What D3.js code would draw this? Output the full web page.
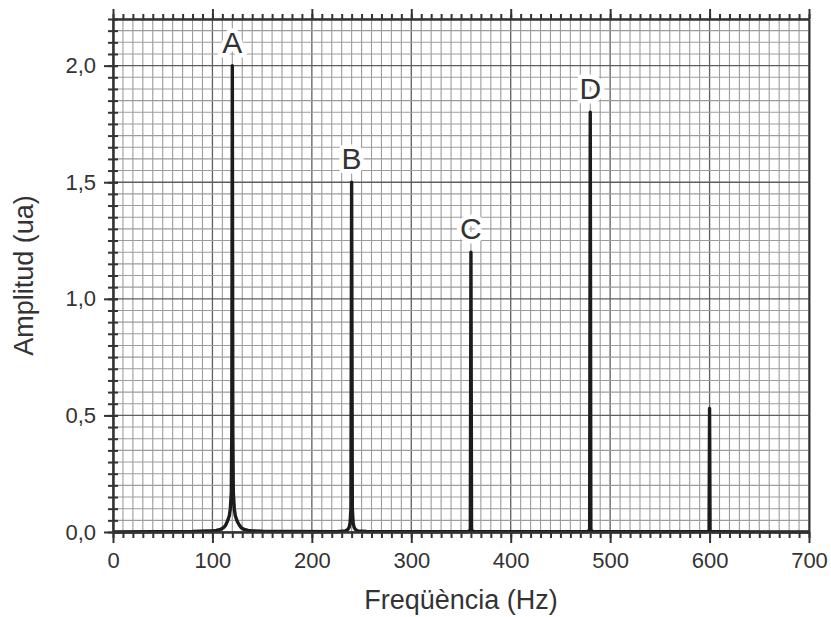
<!DOCTYPE html>
<html>
<head>
<meta charset="utf-8">
<script src="https://cdn.jsdelivr.net/npm/d3@7"></script>
<style>
  body { margin: 0; background: #fff; }
  text { font-family: "Liberation Sans", Arial, sans-serif; fill: #333; }
</style>
</head>
<body>
<svg id="graph" width="831" height="617"></svg>
<script>
//Spectrum (frequency in Hz, amplitude in ua)
let freqs = [0, 80, 95, 100, 104, 108, 111, 113, 115, 117, 118, 119, 119.5, 120,
  120.5, 121, 122, 123, 125, 127, 129, 132, 136, 140, 150, 180,
  225, 234, 236, 237.5, 238.5, 239.3, 240, 240.7, 241.5, 242.5, 244, 246, 255, 300,
  357, 359.4, 360, 360.6, 363,
  477, 479.4, 480, 480.6, 483,
  597, 599.5, 600, 600.5, 603, 700];
let amps = [0, 0.002, 0.004, 0.005, 0.007, 0.011, 0.018, 0.027, 0.045, 0.07, 0.1, 0.17, 0.45, 2.0,
  0.45, 0.17, 0.1, 0.07, 0.045, 0.03, 0.018, 0.011, 0.007, 0.005, 0.003, 0.002,
  0.001, 0.005, 0.01, 0.02, 0.04, 0.1, 1.5, 0.1, 0.04, 0.02, 0.01, 0.005, 0.002, 0.001,
  0.001, 0.008, 1.2, 0.008, 0.001,
  0.001, 0.008, 1.8, 0.008, 0.001,
  0.001, 0.005, 0.53, 0.005, 0.001, 0];

//Peak labels
let peakNames = ["A", "B", "C", "D"];
let peakFreqs = [120, 240, 360, 480];
let peakAmps = [2.0, 1.5, 1.2, 1.8];

//Axis ticks
let xMajorTicks = [0, 100, 200, 300, 400, 500, 600, 700];
let yMajorTicks = [0, 0.5, 1.0, 1.5, 2.0];
let yTickLabels = ["0,0", "0,5", "1,0", "1,5", "2,0"];

let margin = { top: 19, right: 22, bottom: 85, left: 113 };
let svg = d3.select("#graph");
let width = 831 - margin.left - margin.right;
let height = 617 - margin.top - margin.bottom;

let x = d3.scaleLinear().domain([0, 700]).range([0, width]);
let y = d3.scaleLinear().domain([0, 2.2]).range([height, 0]);

let g = svg.append("g").attr("transform", "translate(" + margin.left + "," + margin.top + ")");

//minor and major grid
let xMinor = d3.range(0, 701, 10);
let yMinor = d3.range(0, 45).map(function (i) { return +(i * 0.05).toFixed(2); });

g.append("g").selectAll("line").data(xMinor).enter().append("line")
  .attr("x1", function (d) { return x(d); }).attr("x2", function (d) { return x(d); })
  .attr("y1", 0).attr("y2", height)
  .attr("stroke", function (d) { return d % 100 === 0 ? "#5e5e5e" : "#9c9c9c"; })
  .attr("stroke-width", function (d) { return d % 100 === 0 ? 1.3 : 1.1; });

g.append("g").selectAll("line").data(yMinor).enter().append("line")
  .attr("x1", 0).attr("x2", width)
  .attr("y1", function (d) { return y(d); }).attr("y2", function (d) { return y(d); })
  .attr("stroke", function (d) { return Math.round(d * 100) % 50 === 0 ? "#5e5e5e" : "#9c9c9c"; })
  .attr("stroke-width", function (d) { return Math.round(d * 100) % 50 === 0 ? 1.3 : 1.1; });

//spectrum line
let spectrum = freqs.map(function (f, i) { return { f: f, a: amps[i] }; });
g.append("path")
  .datum(spectrum)
  .attr("fill", "none")
  .attr("stroke", "#1c1c1c")
  .attr("stroke-width", 3.4)
  .attr("stroke-linejoin", "round")
  .attr("d", d3.line().x(function (d) { return x(d.f); }).y(function (d) { return y(d.a); }));

//peak letters with white halo
g.append("g").selectAll("text").data(peakNames).enter().append("text")
  .attr("x", function (d, i) { return x(peakFreqs[i]); })
  .attr("y", function (d, i) { return y(peakAmps[i]) - 13; })
  .attr("text-anchor", "middle")
  .attr("font-size", 30)
  .attr("stroke", "#fff")
  .attr("stroke-width", 9)
  .attr("stroke-linejoin", "round")
  .attr("paint-order", "stroke")
  .text(function (d) { return d; });

//axes
function styleAxis(sel) {
  sel.select(".domain").attr("stroke", "#333").attr("stroke-width", 2);
  sel.selectAll(".tick line").attr("stroke", "#333").attr("stroke-width", 2);
}

//bottom axis
g.append("g").attr("transform", "translate(0," + height + ")")
  .call(d3.axisBottom(x).tickValues(xMinor).tickSize(6).tickSizeOuter(0).tickFormat(""))
  .call(styleAxis);
g.append("g").attr("transform", "translate(0," + height + ")")
  .call(d3.axisBottom(x).tickValues(xMajorTicks).tickSize(11).tickSizeOuter(0).tickPadding(9))
  .call(styleAxis)
  .call(function (a) { a.selectAll("text").attr("font-size", 22).attr("fill", "#333"); });

//top axis
g.append("g")
  .call(d3.axisTop(x).tickValues(xMinor).tickSize(5).tickSizeOuter(0).tickFormat(""))
  .call(styleAxis);
g.append("g")
  .call(d3.axisTop(x).tickValues(xMajorTicks).tickSize(10).tickSizeOuter(0).tickFormat(""))
  .call(styleAxis);

//left axis, ticks cross the line
g.append("g")
  .call(d3.axisLeft(y).tickValues(yMinor).tickSize(5).tickSizeOuter(0).tickFormat(""))
  .call(styleAxis)
  .call(function (a) { a.selectAll(".tick line").attr("x1", 5); });
g.append("g")
  .call(d3.axisLeft(y).tickValues(yMajorTicks).tickSize(9).tickSizeOuter(0).tickPadding(8)
    .tickFormat(function (d, i) { return yTickLabels[i]; }))
  .call(styleAxis)
  .call(function (a) {
    a.selectAll(".tick line").attr("x1", 5);
    a.selectAll("text").attr("font-size", 22).attr("fill", "#333");
  });

//right axis, plain line
g.append("g").attr("transform", "translate(" + width + ",0)")
  .call(d3.axisRight(y).tickValues([]).tickSizeOuter(0))
  .call(styleAxis);

//axis names
g.append("text")
  .attr("x", width / 2).attr("y", height + 77)
  .attr("text-anchor", "middle").attr("font-size", 27)
  .text("Freqüència (Hz)");
g.append("text")
  .attr("transform", "translate(" + (33 - margin.left) + "," + (height / 2) + ") rotate(-90)")
  .attr("text-anchor", "middle").attr("font-size", 27)
  .text("Amplitud (ua)");
</script>
</body>
</html>
